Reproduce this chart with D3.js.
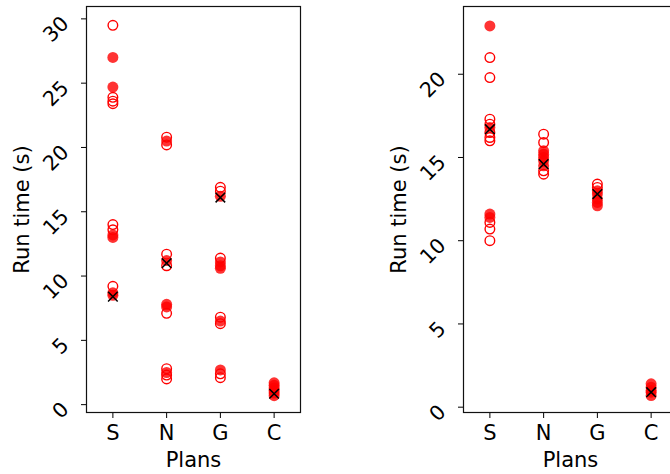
<!DOCTYPE html>
<html>
<head>
<meta charset="utf-8">
<script src="https://cdn.jsdelivr.net/npm/d3@7"></script>
<style>
  html, body { margin: 0; padding: 0; background: #fff; }
  svg { display: block; font-family: "DejaVu Sans", sans-serif; }
</style>
</head>
<body>
<div id="chart"></div>
<script>
// --- Data ---
const plans = ["S", "N", "G", "C"];

const leftTicks = [0, 5, 10, 15, 20, 25, 30];
const leftOpen = [
  ["S", 29.5], ["S", 23.9], ["S", 23.6], ["S", 23.4], ["S", 14.0], ["S", 13.6], ["S", 9.2],
  ["N", 20.8], ["N", 20.2], ["N", 11.7], ["N", 10.8], ["N", 7.1], ["N", 2.8], ["N", 2.3], ["N", 2.0],
  ["G", 16.9], ["G", 16.6], ["G", 11.4], ["G", 6.8], ["G", 6.3], ["G", 2.4], ["G", 2.1]
];
const leftFilled = [
  ["S", 27.0], ["S", 24.7], ["S", 13.2], ["S", 13.0], ["S", 8.7], ["S", 8.5],
  ["N", 20.5], ["N", 11.2], ["N", 7.8], ["N", 7.6], ["N", 2.5],
  ["G", 16.2], ["G", 11.1], ["G", 10.8], ["G", 10.6], ["G", 6.5], ["G", 2.7],
  ["C", 1.7], ["C", 1.5], ["C", 1.3], ["C", 1.1], ["C", 0.9], ["C", 0.7]
];
const leftCross = [["S", 8.4], ["N", 11.0], ["G", 16.1], ["C", 0.85]];

const rightTicks = [0, 5, 10, 15, 20];
const rightOpen = [
  ["S", 21.0], ["S", 19.8], ["S", 17.3], ["S", 17.0], ["S", 16.5], ["S", 16.2], ["S", 16.0],
  ["S", 11.1], ["S", 10.7], ["S", 10.0],
  ["N", 16.4], ["N", 15.9], ["N", 14.2], ["N", 14.0],
  ["G", 13.4], ["G", 13.2]
];
const rightFilled = [
  ["S", 22.9], ["S", 16.8], ["S", 11.6], ["S", 11.4],
  ["N", 15.4], ["N", 15.2], ["N", 15.0], ["N", 14.8], ["N", 14.5],
  ["G", 13.0], ["G", 12.8], ["G", 12.5], ["G", 12.3], ["G", 12.1],
  ["C", 1.4], ["C", 1.2], ["C", 1.0], ["C", 0.9], ["C", 0.7]
];
const rightCross = [["S", 16.7], ["N", 14.6], ["G", 12.8], ["C", 0.9]];

// --- Layout ---
const W = 670, H = 474;
const plotTop = 6, plotBottom = 413;

const svg = d3.select("#chart").append("svg")
  .attr("width", W)
  .attr("height", H);

function drawPanel(cfg) {
  const x = d3.scalePoint().domain(plans).range([cfg.left, cfg.right]).padding(0.5);
  const y = d3.scaleLinear().domain(cfg.yDomain).range([plotBottom, plotTop]);
  const g = svg.append("g");

  // open circles
  g.selectAll(".open").data(cfg.open).join("circle")
    .attr("cx", d => x(d[0]))
    .attr("cy", d => y(d[1]))
    .attr("r", 4.8)
    .attr("fill", "none")
    .attr("stroke", "#ff0000")
    .attr("stroke-width", 1.4);

  // filled circles
  g.selectAll(".filled").data(cfg.filled).join("circle")
    .attr("cx", d => x(d[0]))
    .attr("cy", d => y(d[1]))
    .attr("r", 5.5)
    .attr("fill", "#ff0000")
    .attr("fill-opacity", 0.8);

  // crosses
  const s = 4.8;
  g.selectAll(".cross").data(cfg.cross).join("path")
    .attr("d", d => {
      const cx = x(d[0]), cy = y(d[1]);
      return `M${cx - s},${cy - s}L${cx + s},${cy + s}M${cx - s},${cy + s}L${cx + s},${cy - s}`;
    })
    .attr("stroke", "#000")
    .attr("stroke-width", 1.5)
    .attr("fill", "none");

  // y axis ticks + rotated labels
  const yt = g.append("g");
  yt.selectAll("line").data(cfg.ticks).join("line")
    .attr("x1", cfg.left - 5).attr("x2", cfg.left)
    .attr("y1", d => y(d)).attr("y2", d => y(d))
    .attr("stroke", "#000").attr("stroke-width", 1);
  yt.selectAll("text").data(cfg.ticks).join("text")
    .attr("transform", d => `translate(${cfg.left - 16},${y(d) + 6}) rotate(-45)`)
    .attr("text-anchor", "end")
    .attr("font-size", 20.5)
    .attr("fill", "#000")
    .text(d => d);

  // x axis ticks + labels
  const xt = g.append("g");
  xt.selectAll("line").data(plans).join("line")
    .attr("x1", d => x(d)).attr("x2", d => x(d))
    .attr("y1", plotBottom).attr("y2", plotBottom + 5)
    .attr("stroke", "#000").attr("stroke-width", 1);
  xt.selectAll("text").data(plans).join("text")
    .attr("x", d => x(d))
    .attr("y", 440)
    .attr("text-anchor", "middle")
    .attr("font-size", 21)
    .attr("fill", "#000")
    .text(d => d);

  // spines
  g.append("rect")
    .attr("x", cfg.left + 0.5).attr("y", plotTop + 0.5)
    .attr("width", cfg.right - cfg.left - 1).attr("height", plotBottom - plotTop - 1)
    .attr("fill", "none")
    .attr("stroke", "#111")
    .attr("stroke-width", 1.2);

  // axis labels
  g.append("text")
    .attr("x", (cfg.left + cfg.right) / 2)
    .attr("y", 467)
    .attr("text-anchor", "middle")
    .attr("font-size", 21)
    .text("Plans");
  g.append("text")
    .attr("transform", `translate(${cfg.left - 57},${(plotTop + plotBottom) / 2}) rotate(-90)`)
    .attr("text-anchor", "middle")
    .attr("font-size", 21)
    .text("Run time (s)");
}

drawPanel({
  left: 86, right: 301, yDomain: [-0.65, 31.0], ticks: leftTicks,
  open: leftOpen, filled: leftFilled, cross: leftCross
});
drawPanel({
  left: 463, right: 678, yDomain: [-0.35, 24.1], ticks: rightTicks,
  open: rightOpen, filled: rightFilled, cross: rightCross
});
</script>
</body>
</html>
